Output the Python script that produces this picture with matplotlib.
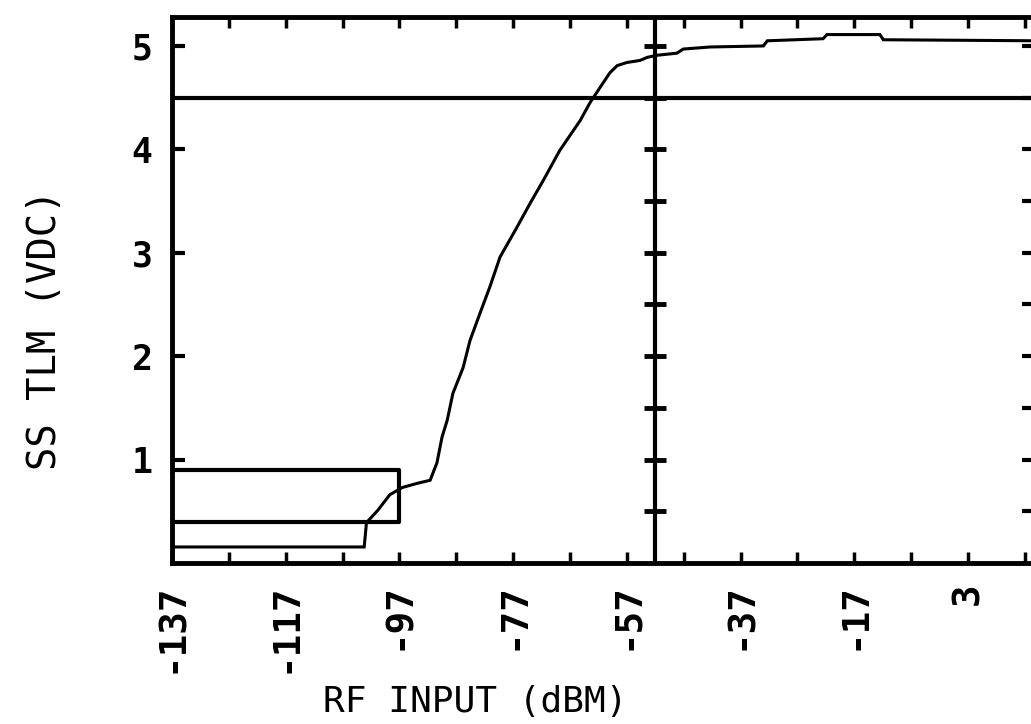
import numpy as np
import matplotlib
matplotlib.use("Agg")
import matplotlib.pyplot as plt

# curve: RF input (dBm) vs SS telemetry (VDC)
rf_dbm = [-137, -103.2, -102.8, -100.8, -98.7, -96.5, -93.9, -91.6, -90.4, -89.5,
          -88.6, -87.6, -85.8, -84.6, -82.8, -81.1, -79.3, -76.3, -74.0, -71.7,
          -68.8, -65.2, -63.5, -61.7, -60.0, -58.7, -57.0, -54.7, -53.4, -51.7,
          -48.2, -47.1, -42.4, -33.0, -32.3, -22.5, -21.8, -12.5, -11.9, 15]
ss_vdc = [0.155, 0.155, 0.39, 0.51, 0.66, 0.73, 0.77, 0.80, 0.97, 1.22,
          1.38, 1.64, 1.89, 2.15, 2.42, 2.67, 2.96, 3.25, 3.48, 3.70,
          3.99, 4.28, 4.45, 4.60, 4.74, 4.81, 4.84, 4.86, 4.89, 4.91,
          4.93, 4.97, 4.99, 5.00, 5.05, 5.07, 5.11, 5.11, 5.06, 5.05]

# reference lines / box
thresh_v = 4.5
marker_dbm = -52
box_dbm = [-137, -97]
box_v = [0.4, 0.9]

x_ticks = [-137, -117, -97, -77, -57, -37, -17, 3]
x_labels = ["-137", "-117", "-97", "-77", "-57", "-37", "-17", "3"]
y_ticks = [1, 2, 3, 4, 5]
y_labels = ["1", "2", "3", "4", "5"]

mono = "DejaVu Sans Mono"

fig = plt.figure(figsize=(10.31, 7.24), dpi=100)
ax = fig.add_axes([172 / 1031, 1 - 563 / 724, (1034 - 172) / 1031, (563 - 17) / 724])

ax.set_xlim(-137, 14.6)
ax.set_ylim(0, 5.28)

ax.plot(rf_dbm, ss_vdc, color="black", lw=2.2, solid_joinstyle="miter")
ax.axhline(thresh_v, color="black", lw=3)
ax.axvline(marker_dbm, color="black", lw=3)
# crossing marks on the marker line
ax.plot([marker_dbm] * 10, np.arange(0.5, 5.01, 0.5), ls="none", marker="_",
        ms=16, mew=3.5, color="black")

ax.plot([box_dbm[0], box_dbm[1], box_dbm[1], box_dbm[0]],
        [box_v[1], box_v[1], box_v[0], box_v[0]], color="black", lw=3)

for s in ax.spines.values():
    s.set_linewidth(3.5)

ax.set_xticks(x_ticks)
ax.set_xticklabels(x_labels, rotation=90, fontfamily=mono, fontsize=27,
                   fontweight="bold")
ax.set_xticks(np.arange(-127, 14, 20), minor=True)
ax.set_yticks(y_ticks)
ax.set_yticklabels(y_labels, fontfamily=mono, fontsize=25, fontweight="bold")

ax.tick_params(axis="x", which="both", direction="in", top=True, length=8,
               width=2.5, pad=14)
ax.tick_params(axis="y", which="both", direction="in", right=False, length=9,
               width=3, pad=14)

ax2 = ax.twinx()
ax2.set_ylim(ax.get_ylim())
ax2.set_yticks(np.arange(0.5, 5.01, 0.5))
ax2.set_yticklabels([])
ax2.tick_params(direction="in", length=9, width=3)
for s in ax2.spines.values():
    s.set_visible(False)

fig.text(475 / 1031, 1 - 702 / 724, "RF INPUT (dBM)", fontfamily=mono,
         fontsize=26, ha="center", va="center")
fig.text(45 / 1031, 1 - 330 / 724, "SS TLM (VDC)", fontfamily=mono,
         fontsize=28, rotation=90, ha="center", va="center")

fig.savefig("out.png", dpi=100)
